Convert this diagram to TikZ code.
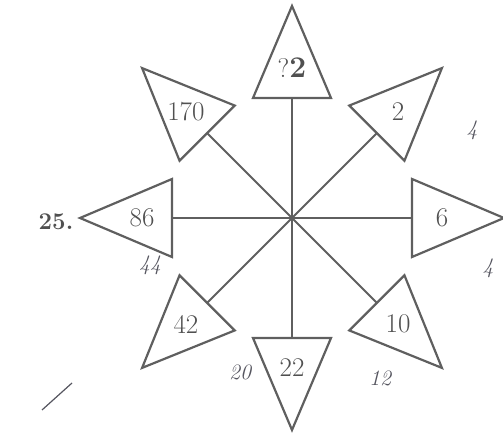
\documentclass[tikz,border=0pt]{standalone}
\usepackage{fontspec}
\usepackage{tikz}
\usetikzlibrary{calc}
\definecolor{cLine}{RGB}{95,95,95}
\definecolor{cText}{RGB}{80,80,80}
\definecolor{cPen}{RGB}{85,85,95}
\tikzset{
  tribox/.style={draw=cLine,line width=2.2pt,line join=miter},
  spoke/.style={draw=cLine,line width=2pt},
  numnode/.style={text=cText,font=\fontsize{27}{27}\selectfont\addfontfeatures{FakeBold=0.6},inner sep=0pt},
  qnode/.style={text=cText,font=\fontsize{24}{24}\selectfont\bfseries,inner sep=0pt},
  pennode/.style={text=cPen,font=\fontsize{22}{22}\selectfont\itshape,inner sep=0pt}
}

\begin{document}
\begin{tikzpicture}[x=1pt,y=1pt]
  \useasboundingbox (0,0) rectangle (503,433);
  \coordinate (c) at (292,215);
  % eight triangles round the centre
  \foreach \ang/\num/\nm in {90/{?{\fontsize{30}{30}\selectfont\textbf{2}}}/n,45/2/ne,0/6/e,-45/10/se,
                             -90/22/s,-135/42/sw,180/86/w,135/170/nw}{
    \coordinate (\nm-b) at ($(c)+(\ang:120)$);
    \coordinate (\nm-l) at ($(\nm-b)+(\ang+90:39)$);
    \coordinate (\nm-r) at ($(\nm-b)+(\ang-90:39)$);
    \coordinate (\nm-a) at ($(c)+(\ang:212)$);
    \draw[tribox] (\nm-l)--(\nm-a)--(\nm-r)--cycle;
    \node[numnode] (\nm) at ($(c)+(\ang:150)$) {\num};
    \draw[spoke] (c)--(\nm-b);
  }
  \node[qnode] (qno) at (56,211) {25.};
  % pen marks
  \node[pennode] (p1) at (472,303) {4};
  \node[pennode] (p2) at (488,165) {4};
  \node[pennode] (p3) at (150,168) {44};
  \node[pennode] (p4) at (240,61) {20};
  \node[pennode] (p5) at (380,55) {12};
  \coordinate (s1) at (42,23);
  \coordinate (s2) at (72,50);
  \draw[cPen,line width=1.2pt] (s1)--(s2);
\end{tikzpicture}
\end{document}
